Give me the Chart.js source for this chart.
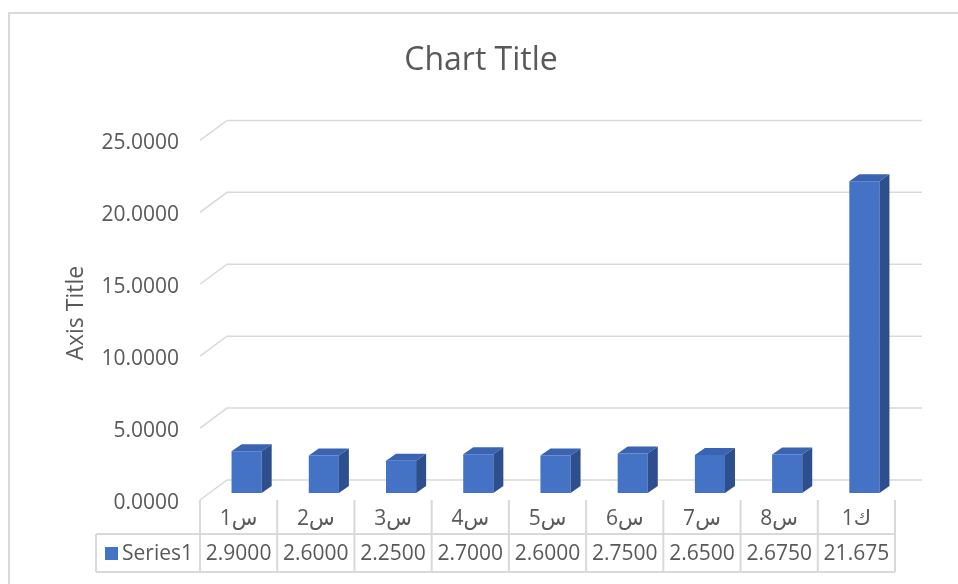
<!DOCTYPE html>
<html>
<head>
<meta charset="utf-8">
<script src="https://cdn.jsdelivr.net/npm/chart.js@4.4.0/dist/chart.umd.min.js"></script>
<style>
  html, body { margin: 0; padding: 0; background: #fff; }
  #wrap { width: 958px; height: 584px; }
</style>
</head>
<body>
<div id="wrap"><canvas id="chart" width="958" height="584"></canvas></div>
<script>
// data
const categories = ['س1', 'س2', 'س3', 'س4', 'س5', 'س6', 'س7', 'س8', 'ك1'];
const series1 = [2.9, 2.6, 2.25, 2.7, 2.6, 2.75, 2.65, 2.675, 21.675];
const yTicks = [0, 5, 10, 15, 20, 25];

const textColor = '#595959';
const lineColor = '#D9D9D9';
const FONT = "'Open Sans', 'DejaVu Sans', sans-serif";

// 3d offsets relative to the bar plane
const FRONT = { dx: -8, dy: 7 };
const BACK = { dx: 19, dy: -13 };
const DEPTH = { dx: 10, dy: -7 };

const frame = {
    id: 'frame',
    beforeDraw(chart) {
        const ctx = chart.ctx;
        ctx.save();
        ctx.fillStyle = '#fff';
        ctx.fillRect(0, 0, chart.width, chart.height);
        ctx.strokeStyle = lineColor;
        ctx.lineWidth = 2;
        ctx.strokeRect(9, 13, chart.width + 10, chart.height + 10);
        ctx.restore();
    }
};

// back wall gridlines + side wall diagonals
const walls = {
    id: 'walls',
    beforeDatasetsDraw(chart) {
        const ctx = chart.ctx, y = chart.scales.y, area = chart.chartArea;
        ctx.save();
        ctx.strokeStyle = lineColor;
        ctx.lineWidth = 1.5;
        yTicks.forEach(v => {
            const py = y.getPixelForValue(v);
            ctx.beginPath();
            ctx.moveTo(area.left + FRONT.dx, py + FRONT.dy);
            ctx.lineTo(area.left + BACK.dx, py + BACK.dy);
            ctx.lineTo(area.right + BACK.dx, py + BACK.dy);
            ctx.stroke();
        });
        ctx.restore();
    }
};

// top and side faces of the columns
const bars3d = {
    id: 'bars3d',
    afterDatasetsDraw(chart) {
        const ctx = chart.ctx;
        ctx.save();
        chart.getDatasetMeta(0).data.forEach(bar => {
            const l = bar.x - bar.width / 2, r = bar.x + bar.width / 2;
            const t = bar.y, b = bar.base;
            ctx.fillStyle = '#3A64B2';
            ctx.beginPath();
            ctx.moveTo(l, t);
            ctx.lineTo(l + DEPTH.dx, t + DEPTH.dy);
            ctx.lineTo(r + DEPTH.dx, t + DEPTH.dy);
            ctx.lineTo(r, t);
            ctx.closePath();
            ctx.fill();
            ctx.fillStyle = '#2D4F8E';
            ctx.beginPath();
            ctx.moveTo(r, t);
            ctx.lineTo(r + DEPTH.dx, t + DEPTH.dy);
            ctx.lineTo(r + DEPTH.dx, b + DEPTH.dy);
            ctx.lineTo(r, b);
            ctx.closePath();
            ctx.fill();
        });
        ctx.restore();
    }
};

// data table under the plot
const dataTable = {
    id: 'dataTable',
    afterDraw(chart) {
        const ctx = chart.ctx, x = chart.scales.x, area = chart.chartArea;
        const colW = x.getPixelForValue(1) - x.getPixelForValue(0);
        const top = area.bottom + FRONT.dy;
        const mid = top + 34;
        const bottom = mid + 38;
        const left = 96;
        const first = x.getPixelForValue(0) + FRONT.dx - colW / 2;
        const last = x.getPixelForValue(categories.length - 1) + FRONT.dx + colW / 2;
        ctx.save();
        ctx.strokeStyle = lineColor;
        ctx.lineWidth = 2;
        ctx.beginPath();
        for (let i = 0; i <= categories.length; i++) {
            const bx = first + i * colW;
            ctx.moveTo(bx, top);
            ctx.lineTo(bx, bottom);
        }
        ctx.moveTo(left, mid);
        ctx.lineTo(left, bottom);
        ctx.moveTo(left, mid);
        ctx.lineTo(last, mid);
        ctx.moveTo(left, bottom);
        ctx.lineTo(last, bottom);
        ctx.stroke();

        ctx.fillStyle = textColor;
        ctx.font = '21px ' + FONT;
        ctx.textAlign = 'center';
        ctx.textBaseline = 'middle';
        categories.forEach((c, i) => {
            const cx = x.getPixelForValue(i) + FRONT.dx;
            ctx.fillText(c, cx, (top + mid) / 2 + 2);
            ctx.fillText(series1[i].toFixed(4).slice(0, 6), cx, (mid + bottom) / 2 + 1);
        });
        ctx.fillStyle = '#4472C4';
        ctx.fillRect(left + 9, (mid + bottom) / 2 - 6, 13, 13);
        ctx.fillStyle = textColor;
        ctx.textAlign = 'left';
        ctx.fillText('Series1', left + 26, (mid + bottom) / 2 + 1);
        ctx.restore();
    }
};

new Chart(document.getElementById('chart').getContext('2d'), {
    type: 'bar',
    data: {
        labels: categories,
        datasets: [{
            label: 'Series1',
            data: series1,
            backgroundColor: '#4472C4',
            borderWidth: 0,
            categoryPercentage: 1,
            barPercentage: 0.39
        }]
    },
    options: {
        responsive: false,
        animation: false,
        layout: { padding: { left: 59, right: 55, top: 0, bottom: 91 } },
        scales: {
            x: { display: false },
            y: {
                min: 0,
                max: 25,
                ticks: {
                    stepSize: 5,
                    padding: 29,
                    labelOffset: 10,
                    color: textColor,
                    font: { family: FONT, size: 21 },
                    callback: v => v.toFixed(4)
                },
                grid: { display: false, drawTicks: false },
                border: { display: false },
                title: {
                    display: true,
                    text: 'Axis Title',
                    color: textColor,
                    font: { family: FONT, size: 23 }
                },
                afterFit(scale) { scale.width = 149; }
            }
        },
        plugins: {
            legend: { display: false },
            tooltip: { enabled: false },
            title: {
                display: true,
                text: 'Chart Title',
                color: textColor,
                font: { family: FONT, size: 32, weight: 'normal' },
                padding: { top: 42, bottom: 53 }
            }
        }
    },
    plugins: [frame, walls, bars3d, dataTable]
});
</script>
</body>
</html>
